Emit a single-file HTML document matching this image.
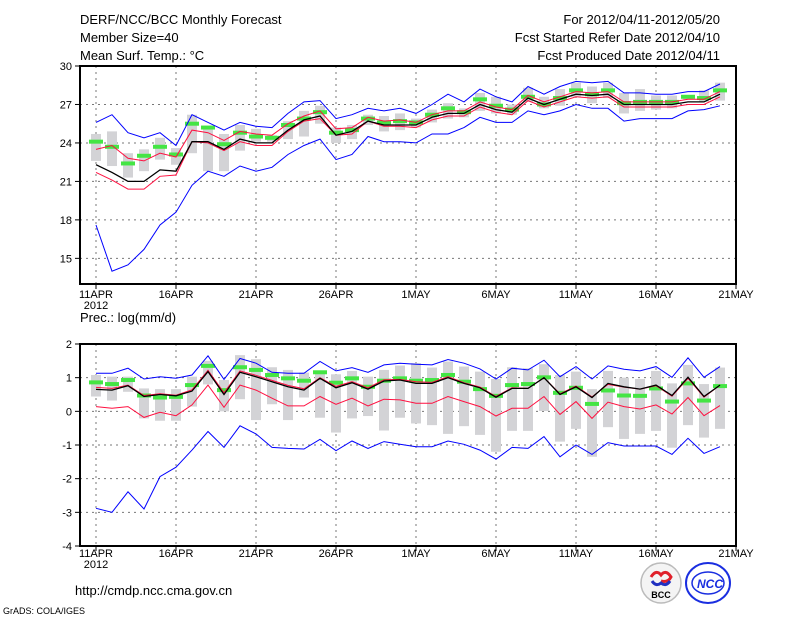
<!DOCTYPE html>
<html><head><meta charset="utf-8"><style>
html,body{margin:0;padding:0;background:#fff;}
svg{display:block;}
text{font-family:"Liberation Sans",sans-serif;}
</style></head><body>
<svg id="chart" width="800" height="618" viewBox="0 0 800 618" xmlns="http://www.w3.org/2000/svg">
<text x="80" y="24" font-size="13">DERF/NCC/BCC Monthly Forecast</text>
<text x="80" y="42" font-size="13">Member Size=40</text>
<text x="80" y="60" font-size="13">Mean Surf. Temp.: °C</text>
<text x="720" y="24" font-size="13" text-anchor="end">For 2012/04/11-2012/05/20</text>
<text x="720" y="42" font-size="13" text-anchor="end">Fcst Started Refer Date 2012/04/10</text>
<text x="720" y="60" font-size="13" text-anchor="end">Fcst Produced Date 2012/04/11</text>
<text x="80" y="322" font-size="13">Prec.: log(mm/d)</text>
<text x="75" y="595" font-size="13">http://cmdp.ncc.cma.gov.cn</text>
<text x="3" y="614" font-size="9">GrADS: COLA/IGES</text>
<g>
<circle cx="661" cy="583" r="20" fill="#f4f4f4" stroke="#bbb" stroke-width="1.5"/>
<path d="M651 577 q5 -8 10 -2 q5 -6 10 2 q-3 6 -10 4" fill="none" stroke="#e0202a" stroke-width="3"/>
<path d="M652 581 q4 6 9 2 q5 4 9 -2" fill="none" stroke="#2030c0" stroke-width="3"/>
<text x="661" y="598" font-size="9" font-weight="bold" text-anchor="middle" font-family="Liberation Serif,serif">BCC</text>
</g>
<g>
<ellipse cx="708" cy="583" rx="22" ry="20" fill="#fff" stroke="#1a2ee0" stroke-width="2"/>
<ellipse cx="708" cy="583" rx="16" ry="11" fill="none" stroke="#1a2ee0" stroke-width="1.5"/>
<text x="710" y="588" font-size="12" font-weight="bold" font-style="italic" fill="#1a2ee0" text-anchor="middle">NCC</text>
</g>
</svg>
<script>
// ---------- TOP PANEL DATA (temperature, °C) ----------
const dayLabels = ["11APR","16APR","21APR","26APR","1MAY","6MAY","11MAY","16MAY","21MAY"];
const topTicks = [15,18,21,24,27,30];
const botTicks = [-4,-3,-2,-1,0,1,2];
const tBlueHi = [25.6,26.2,24.8,24.4,24.8,23.8,26.2,25.6,25.0,25.6,25.3,25.2,26.3,27.2,27.3,25.9,26.2,26.7,26.5,26.7,26.3,27.0,27.8,27.2,28.2,27.6,27.2,28.4,27.8,28.4,28.8,28.7,28.8,27.9,27.9,27.8,27.8,28.0,28.0,28.6];
const tBlueLo = [17.6,14.0,14.5,15.7,17.6,18.6,20.7,21.8,21.4,22.2,21.8,22.1,23.1,23.8,24.3,22.7,23.1,24.5,24.1,24.1,24.0,24.7,24.7,25.2,26.0,25.6,25.6,26.5,26.2,26.5,27.0,26.7,26.7,25.7,25.9,25.9,25.9,26.5,26.6,26.9];
const tBlack = [22.3,21.7,21.0,21.0,21.9,21.8,24.1,24.1,23.5,24.3,24.0,24.0,25.0,25.8,26.1,24.6,24.9,25.7,25.4,25.4,25.4,26.0,26.3,26.3,27.0,26.6,26.4,27.5,27.0,27.4,27.8,27.7,27.8,27.0,27.0,27.0,27.0,27.2,27.2,27.8];
const tRedHi = [23.5,23.8,22.8,22.6,23.2,22.9,25.0,24.8,24.2,24.9,24.7,24.6,25.5,26.1,26.5,25.1,25.2,26.0,25.7,25.8,25.6,26.2,26.5,26.5,27.2,26.8,26.6,27.7,27.2,27.6,28.0,27.9,28.0,27.2,27.2,27.2,27.2,27.4,27.4,28.0];
const tRedLo = [21.7,21.1,20.4,20.4,21.4,21.5,24.1,24.0,23.4,24.1,23.8,23.8,24.9,25.7,25.9,24.6,24.7,25.7,25.3,25.3,25.2,25.8,26.1,26.1,26.8,26.4,26.2,27.3,26.8,27.2,27.6,27.5,27.6,26.8,26.8,26.8,26.8,27.0,27.0,27.6];
const tGreen = [24.1,23.7,22.4,23.0,23.7,23.1,25.5,25.2,23.9,24.8,24.5,24.4,25.4,25.9,26.4,24.8,25.0,25.9,25.6,25.7,25.6,26.2,26.7,26.4,27.4,26.9,26.6,27.6,27.0,27.5,28.1,27.8,28.1,27.1,27.2,27.2,27.2,27.6,27.5,28.1];
const tBoxHi = [24.7,24.9,23.2,23.5,24.4,23.6,26.2,25.2,24.7,25.4,25.1,24.6,25.7,26.5,26.9,25.2,25.4,26.2,26.1,26.3,25.9,26.6,27.1,26.7,27.9,27.6,27.0,28.3,27.6,28.2,28.7,28.4,28.7,27.9,28.2,27.7,27.7,27.7,28.1,28.7];
const tBoxLo = [22.6,22.2,21.3,21.8,22.7,22.3,23.2,21.8,21.8,23.4,24.1,24.1,24.3,24.5,25.5,24.0,24.3,25.4,24.9,25.0,25.2,25.6,25.9,26.0,26.5,26.3,26.2,27.2,26.7,26.9,27.6,27.1,27.5,26.3,26.5,26.6,26.7,27.4,27.2,27.3];
// ---------- BOTTOM PANEL DATA (precip, log mm/d) ----------
const pBlueHi = [1.13,1.13,1.28,0.96,1.03,0.98,1.08,1.65,0.95,1.57,1.43,1.16,1.13,1.13,1.48,1.20,1.30,1.16,1.38,1.43,1.40,1.38,1.54,1.43,1.26,0.96,1.28,1.23,1.52,1.03,1.33,0.96,1.35,1.25,1.20,1.33,1.01,1.59,1.01,1.33];
const pBlueLo = [-2.88,-3.0,-2.39,-2.90,-1.94,-1.66,-1.15,-0.60,-1.07,-0.43,-0.67,-1.07,-1.10,-1.12,-0.83,-1.17,-0.88,-1.10,-0.90,-0.98,-1.05,-1.05,-0.88,-0.98,-1.15,-1.42,-1.07,-1.10,-0.75,-1.35,-1.00,-1.28,-0.93,-1.03,-1.03,-1.03,-1.28,-0.80,-1.25,-1.05];
const pBlack = [0.65,0.63,0.76,0.44,0.50,0.46,0.60,1.18,0.50,1.16,1.03,0.88,0.73,0.63,0.98,0.70,0.85,0.66,0.90,0.93,0.83,0.83,1.00,0.83,0.70,0.42,0.68,0.68,1.00,0.50,0.73,0.41,0.83,0.73,0.66,0.78,0.47,1.01,0.44,0.78];
const pRedHi = [0.71,0.68,0.78,0.47,0.52,0.48,0.64,1.22,0.55,1.20,1.07,0.92,0.77,0.67,1.00,0.74,0.88,0.70,0.94,0.95,0.88,0.86,1.03,0.85,0.72,0.44,0.70,0.68,1.00,0.52,0.75,0.43,0.80,0.72,0.66,0.76,0.45,0.98,0.42,0.78];
const pRedLo = [0.14,0.09,0.14,-0.18,-0.03,-0.13,0.19,0.78,0.12,0.78,0.63,0.39,0.16,0.16,0.44,0.21,0.39,0.16,0.36,0.34,0.24,0.24,0.44,0.29,0.14,-0.14,0.09,0.09,0.44,-0.09,0.29,-0.21,0.27,0.14,0.07,0.19,-0.08,0.41,-0.13,0.17];
const pGreen = [0.86,0.81,0.93,0.47,0.41,0.43,0.78,1.35,0.63,1.31,1.23,1.08,0.98,0.91,1.16,0.85,0.98,0.73,0.91,0.98,0.91,0.93,1.08,0.88,0.66,0.46,0.78,0.81,1.01,0.55,0.70,0.22,0.62,0.47,0.46,0.68,0.29,0.83,0.32,0.75];
const pBoxHi = [1.08,1.03,1.03,0.68,0.66,0.66,1.03,1.50,0.93,1.67,1.55,1.31,1.23,1.15,1.18,1.10,1.20,1.03,1.23,1.36,1.43,1.30,1.48,1.33,1.18,0.96,1.31,1.28,1.40,1.08,1.18,0.66,1.20,1.00,0.96,1.20,0.83,1.38,0.81,1.30];
const pBoxLo = [0.44,0.32,0.58,-0.21,-0.28,-0.28,0.14,0.80,0.00,0.36,-0.26,0.21,-0.26,0.41,-0.19,-0.63,-0.21,-0.14,-0.57,-0.19,-0.36,-0.41,-0.67,-0.44,-0.70,-1.20,-0.58,-0.58,0.01,-0.90,-0.52,-1.35,-0.47,-0.82,-0.67,-0.58,-1.08,-0.41,-0.78,-0.52];

const NS="http://www.w3.org/2000/svg";
const svg=document.getElementById('chart');
function mk(tag,attrs,parent){const e=document.createElementNS(NS,tag);for(const k in attrs)e.setAttribute(k,attrs[k]);(parent||svg).appendChild(e);return e;}
const X0=80,X1=736;
function xDay(d){return 96+16*d;}

function panel(name,top,bottom,vmin,vmax,ticks,series,boxHi,boxLo,green,labelY){
  const y=v=>bottom-(v-vmin)/(vmax-vmin)*(bottom-top);
  const g=mk('g',{});
  
  
  // grid
  ticks.forEach(t=>{
    if(t===vmin||t===vmax)return;
    const l=mk('line',{x1:X0,x2:X1,y1:y(t),y2:y(t),stroke:'#777','stroke-dasharray':'2,4','stroke-width':1},g);
    
    
  });
  dayLabels.forEach((lab,i)=>{
    const x=xDay(i*5);
    if(x<X1){
      const l=mk('line',{x1:x,x2:x,y1:top,y2:bottom,stroke:'#777','stroke-dasharray':'2,4','stroke-width':1},g);
      
      
    }
    mk('line',{x1:x,x2:x,y1:bottom,y2:bottom+5,stroke:'#000','stroke-width':1},g);
    const t=mk('text',{x:x,y:labelY,'font-size':11,'text-anchor':'middle'},g);
    t.textContent=lab;
    
    
  });
  const yr=mk('text',{x:96,y:labelY+11,'font-size':11,'text-anchor':'middle'},g);
  yr.textContent='2012';
  
  
  ticks.forEach(t=>{
    mk('line',{x1:X0-5,x2:X0,y1:y(t),y2:y(t),stroke:'#000'},g);
    const tx=mk('text',{x:X0-8,y:y(t)+4,'font-size':11,'text-anchor':'end'},g);
    tx.textContent=String(t);
    
    
  });
  // boxes
  boxHi.forEach((h,i)=>{
    const r=mk('rect',{x:xDay(i)-5,y:y(h),width:10,height:Math.max(1,y(boxLo[i])-y(h)),fill:'#d3d3d6'},g);
    
    
  });
  green.forEach((v,i)=>{
    const r=mk('rect',{x:xDay(i)-7,y:y(v)-2,width:14,height:4,fill:'#44e544'},g);
    
    
  });
  series.forEach(s=>{
    const pts=s.data.map((v,i)=>xDay(i)+','+y(v).toFixed(1)).join(' ');
    const p=mk('polyline',{points:pts,fill:'none',stroke:s.color,'stroke-width':s.w||1},g);
    
    
  });
  const f=mk('rect',{x:X0,y:top,width:X1-X0,height:bottom-top,fill:'none',stroke:'#000','stroke-width':2},g);
  
  
}
panel('temperature-panel',66,284,13,30,topTicks,[
  {name:'temp-max-line',data:tBlueHi,color:'#0000ff'},
  {name:'temp-min-line',data:tBlueLo,color:'#0000ff'},
  {name:'temp-upper-red-line',data:tRedHi,color:'#ff1040'},
  {name:'temp-lower-red-line',data:tRedLo,color:'#ff1040'},
  {name:'temp-mean-line',data:tBlack,color:'#000',w:1.3}
],tBoxHi,tBoxLo,tGreen,298);
panel('precip-panel',344,546,-4,2,botTicks,[
  {name:'precip-max-line',data:pBlueHi,color:'#0000ff'},
  {name:'precip-min-line',data:pBlueLo,color:'#0000ff'},
  {name:'precip-upper-red-line',data:pRedHi,color:'#ff1040'},
  {name:'precip-lower-red-line',data:pRedLo,color:'#ff1040'},
  {name:'precip-mean-line',data:pBlack,color:'#000',w:1.3}
],pBoxHi,pBoxLo,pGreen,557);
</script>
</body></html>
